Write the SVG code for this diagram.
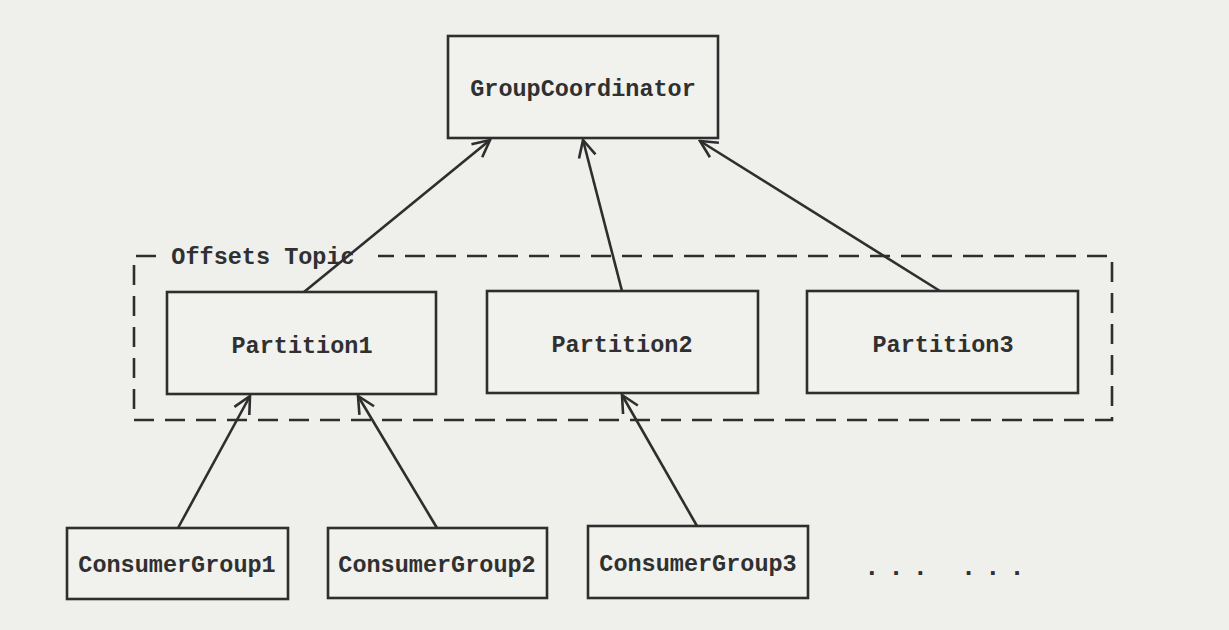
<svg xmlns="http://www.w3.org/2000/svg" width="1229" height="630" viewBox="0 0 1229 630">
<defs>
<style>
.bg{fill:#efefec}
.box{fill:#f1f1ee;stroke:#2e2e2e;stroke-width:2.6}
.lbl{font-family:"Liberation Mono","Courier New",monospace;font-size:23.5px;font-weight:bold;fill:#303030;text-anchor:middle}
.dots{font-family:"Liberation Mono","Courier New",monospace;font-size:26px;font-weight:bold;fill:#303030;letter-spacing:8.6px}
.edge{stroke:#2e2e2e;stroke-width:2.6;fill:none;marker-end:url(#arr)}
.dash{fill:none;stroke:#2e2e2e;stroke-width:2.6;stroke-dasharray:20 11}
</style>
<marker id="arr" viewBox="0 0 20 20" refX="18" refY="10" markerWidth="20" markerHeight="20" markerUnits="userSpaceOnUse" orient="auto">
<path d="M1 1.5 L18 10 L1 18.5" fill="none" stroke="#2e2e2e" stroke-width="2.6"/>
</marker>
</defs>
<rect class="bg" x="0" y="0" width="1229" height="630"/>
<g id="offsets-topic">
<path class="dash" d="M156 256 H134 V420 H1112 V256 H378"/>
<text class="lbl" x="263" y="264">Offsets Topic</text>
</g>
<g id="group-coordinator">
<rect class="box" x="448" y="36" width="270" height="102"/>
<text class="lbl" x="583" y="96">GroupCoordinator</text>
</g>
<g id="partition1">
<rect class="box" x="167" y="292" width="269" height="102"/>
<text class="lbl" x="302" y="353">Partition1</text>
</g>
<g id="partition2">
<rect class="box" x="487" y="291" width="271" height="102"/>
<text class="lbl" x="622" y="352">Partition2</text>
</g>
<g id="partition3">
<rect class="box" x="807" y="291" width="271" height="102"/>
<text class="lbl" x="943" y="352">Partition3</text>
</g>
<g id="consumer-group1">
<rect class="box" x="67" y="528" width="221" height="71"/>
<text class="lbl" x="177" y="572">ConsumerGroup1</text>
</g>
<g id="consumer-group2">
<rect class="box" x="328" y="528" width="219" height="70"/>
<text class="lbl" x="437" y="572">ConsumerGroup2</text>
</g>
<g id="consumer-group3">
<rect class="box" x="588" y="526" width="220" height="72"/>
<text class="lbl" x="698" y="571">ConsumerGroup3</text>
</g>
<g id="ellipsis">
<text class="dots" x="864" y="575">... ...</text>
</g>
<g id="connectors">
<line class="edge" x1="304" y1="292" x2="490" y2="140"/>
<line class="edge" x1="622" y1="291" x2="583" y2="140"/>
<line class="edge" x1="940" y1="291" x2="700" y2="141"/>
<line class="edge" x1="178" y1="528" x2="250" y2="396"/>
<line class="edge" x1="437" y1="528" x2="358" y2="396"/>
<line class="edge" x1="697" y1="526" x2="622" y2="395"/>
</g>
</svg>
